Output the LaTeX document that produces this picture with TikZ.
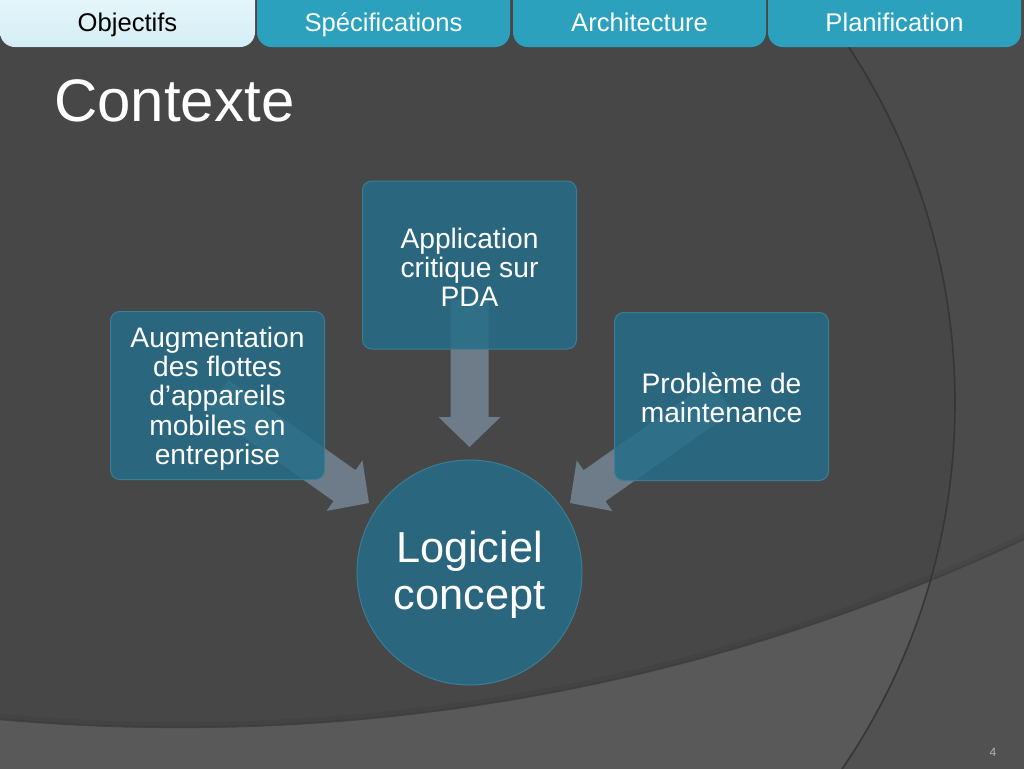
\documentclass[tikz,border=0pt]{standalone}
\usepackage{fontspec}
\setmainfont{Liberation Sans}
\usetikzlibrary{calc}
\definecolor{slidebg}{HTML}{474747}
\definecolor{bgright}{HTML}{4B4B4B}
\definecolor{bandL}{HTML}{595959}
\definecolor{bandR}{HTML}{515151}
\definecolor{arcline}{HTML}{363636}
\definecolor{bandedge}{HTML}{353535}
\definecolor{tabblue}{HTML}{2BA1BE}
\definecolor{tablightA}{HTML}{F0FAFD}
\definecolor{tablightB}{HTML}{D4EEF5}
\definecolor{boxfill}{HTML}{256D88}
\definecolor{boxedge}{HTML}{3A7E95}
\definecolor{arrowgray}{HTML}{6E7B88}
\definecolor{pagenum}{HTML}{B4B4B4}
\newcommand{\blockarr}[3]{%
  \coordinate (#3) at ($(#2)!22.5pt!(#1)$);
  \fill[arrowfill] ($(#1)!14.25pt!90:(#2)$) -- ($(#3)!14.25pt!90:(#2)$) -- ($(#3)!23.25pt!90:(#2)$) -- (#2)
    -- ($(#3)!23.25pt!-90:(#2)$) -- ($(#3)!14.25pt!-90:(#2)$) -- ($(#1)!14.25pt!-90:(#2)$) -- cycle;}
\begin{document}
\begin{tikzpicture}[x=0.75pt,y=-0.75pt,
  tabtext/.style={font=\fontsize{19.2pt}{23pt}\selectfont, anchor=base, inner sep=0pt},
  box/.style={draw=boxedge, line width=0.75pt, fill=boxfill, fill opacity=0.85, draw opacity=1,
    text opacity=1, text=white, rounded corners=7pt, align=center, minimum width=160.5pt,
    minimum height=126pt, inner sep=0pt, font=\fontsize{21.15pt}{21.9pt}\selectfont},
  boxtext/.style={text=white, align=center, inner sep=0pt, font=\fontsize{21.15pt}{21.9pt}\selectfont},
  hub/.style={circle, draw=boxedge, line width=0.75pt, fill=boxfill, fill opacity=0.85, draw opacity=1,
    text opacity=1, text=white, align=center, minimum size=168.75pt, inner sep=0pt,
    font=\fontsize{32.5pt}{35.25pt}\selectfont},
  arrowfill/.style={fill=arrowgray}]
\useasboundingbox (0,0) rectangle (1024,768);
% background
\fill[bgright] (0,0) rectangle (1024,768);
\fill[bandR, even odd rule] (-10,-10) rectangle (1034,778) (180,-1254) circle[radius=1486.5pt];
\begin{scope}
  \clip (306,403) circle[radius=486.75pt];
  \fill[slidebg] (-10,-10) rectangle (1034,778);
  \fill[bandL, even odd rule] (-10,-10) rectangle (1034,778) (180,-1254) circle[radius=1486.5pt];
\end{scope}
\draw[bandedge, line width=4pt, opacity=0.18] (180,-1254) circle[radius=1484pt];
\draw[bandedge, line width=1.5pt, opacity=0.35] (180,-1254) circle[radius=1486pt];
\draw[arcline, line width=1.2pt] (306,403) circle[radius=486.75pt];
% tabs
\fill[top color=tablightA, bottom color=tablightB, rounded corners=11pt] (0,-30) -- (0,47) -- (255,47) -- (255,-30) -- cycle;
\fill[tabblue, rounded corners=11pt] (257,-30) -- (257,47) -- (510,47) -- (510,-30) -- cycle;
\fill[tabblue, rounded corners=11pt] (513,-30) -- (513,47) -- (766,47) -- (766,-30) -- cycle;
\fill[tabblue, rounded corners=11pt] (768,-30) -- (768,47) -- (1021,47) -- (1021,-30) -- cycle;
\node[tabtext, text=black] (tobj) at (127.5,31) {Objectifs};
\node[tabtext, text=white] (tspec) at (383.5,31) {Spécifications};
\node[tabtext, text=white] (tarch) at (639.5,31) {Architecture};
\node[tabtext, text=white] (tplan) at (894.5,31) {Planification};
% title
\node[anchor=base west, inner sep=0pt, text=white, font=\fontsize{45pt}{54pt}\selectfont] (title) at (54,121) {Contexte};
% anchor coordinates
\coordinate (cL) at (217.5,395.5);
\coordinate (cT) at (469.5,265);
\coordinate (cR) at (721.5,396.5);
\coordinate (sT) at (469.5,300);
\coordinate (tipL) at (369,503);
\coordinate (tipT) at (469.5,447);
\coordinate (tipR) at (570,503);
% arrows (behind boxes)
\blockarr{cL}{tipL}{hL}
\blockarr{sT}{tipT}{hT}
\blockarr{cR}{tipR}{hR}
% boxes
\node[box] (bL) at (cL) {};
\node[boxtext] (xL) at ($(cL)+(0,3)$) {Augmentation\\des flottes\\d’appareils\\mobiles en\\entreprise};
\node[box] (bT) at (cT) {};
\node[boxtext] (xT) at ($(cT)+(0,2)$) {Application\\critique sur\\PDA};
\node[box] (bR) at (cR) {};
\node[boxtext] (xR) at ($(cR)+(0,1)$) {Problème de\\maintenance};
\node[hub] (hub) at (469.5,572.5) {};
\node[text=white, align=center, inner sep=0pt, font=\fontsize{32.5pt}{35.25pt}\selectfont] (xhub) at (469.5,574.5) {Logiciel\\concept};
% page number
\node[inner sep=0pt, text=pagenum, font=\fontsize{9pt}{11pt}\selectfont] (pg) at (993,752) {4};
\end{tikzpicture}
\end{document}
